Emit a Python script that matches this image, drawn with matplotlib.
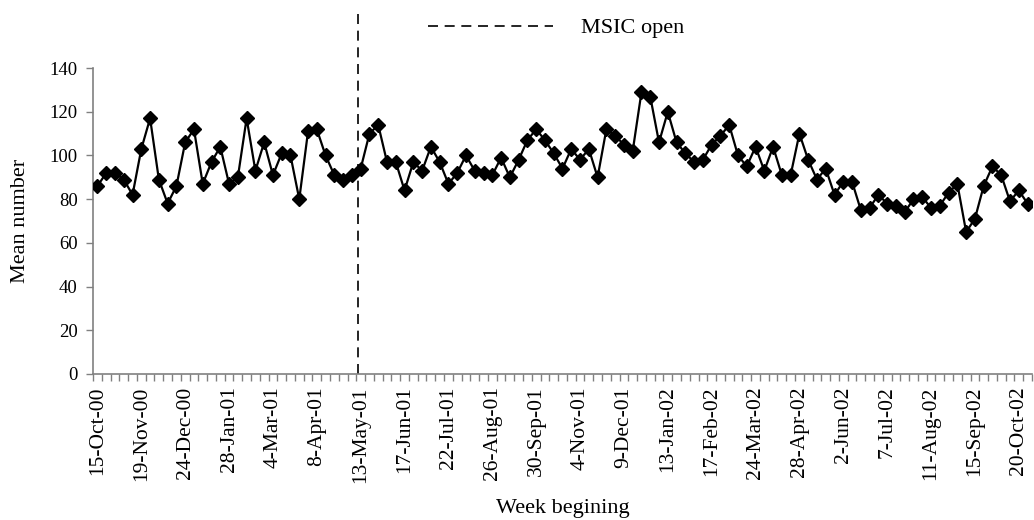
import numpy as np
import pandas as pd
import matplotlib
matplotlib.use("Agg")
import matplotlib.pyplot as plt

plt.rcParams['font.family'] = ['Liberation Serif', 'DejaVu Serif']

# weekly mean counts, week beginning 15-Oct-00
mean_number = [
    86, 92, 92, 89, 82, 103, 117, 89, 78, 86,
    106, 112, 87, 97, 104, 87, 90, 117, 93, 106,
    91, 101, 100, 80, 111, 112, 100, 91, 89, 91,
    94, 110, 114, 97, 97, 84, 97, 93, 104, 97,
    87, 92, 100, 93, 92, 91, 99, 90, 98, 107,
    112, 107, 101, 94, 103, 98, 103, 90, 112, 109,
    105, 102, 129, 127, 106, 120, 106, 101, 97, 98,
    105, 109, 114, 100, 95, 104, 93, 104, 91, 91,
    110, 98, 89, 94, 82, 88, 88, 75, 76, 82,
    78, 77, 74, 80, 81, 76, 77, 83, 87, 65,
    71, 86, 95, 91, 79, 84, 78,
]
weeks = pd.date_range("2000-10-15", periods=len(mean_number), freq="7D")
week_labels = [f"{d.day}-{d.strftime('%b-%y')}" for d in weeks]
label_step = 5
msic_open = 29.7  # centre opened during week of 6-May-01

x = np.arange(len(mean_number))

fig = plt.figure(figsize=(10.34, 5.2), dpi=100)
ax = fig.add_axes([0.09, 0.281, 0.908, 0.588])

ax.plot(x, mean_number, color="black", lw=1.6, marker="D", ms=7.5,
        mfc="black", mec="black", zorder=3)

ax.plot([msic_open, msic_open], [0, 167], color="black", lw=1.2,
        ls=(0, (6, 4)), clip_on=False, label="MSIC open")

ax.set_xlim(-0.5, len(mean_number) - 0.5)
ax.set_ylim(0, 140)
ax.set_yticks(np.arange(0, 141, 20))

ax.set_xticks(x[::label_step])
ax.set_xticklabels(week_labels[::label_step], rotation=90, fontsize=15.5)
ax.set_xticks(np.arange(-0.5, len(mean_number)), minor=True)
ax.tick_params(axis="x", which="major", length=0, pad=9)
ax.tick_params(axis="x", which="minor", length=5, width=1, color="#808080",
               direction="out")
ax.tick_params(axis="y", length=5, width=1, color="#808080", labelsize=13.5,
               pad=6)

for side in ("top", "right"):
    ax.spines[side].set_visible(False)
for side in ("left", "bottom"):
    ax.spines[side].set_color("#808080")
    ax.spines[side].set_linewidth(1.2)

ax.set_xlabel("Week begining", fontsize=16, labelpad=12)
ax.set_ylabel("Mean number", fontsize=16, labelpad=14)

ax.legend(loc="center left", bbox_to_anchor=(0.414, 0.946),
          bbox_transform=fig.transFigure, frameon=False, fontsize=16,
          handlelength=5.6, handletextpad=1.3, borderpad=0, borderaxespad=0)

fig.savefig("out.png", dpi=100)
